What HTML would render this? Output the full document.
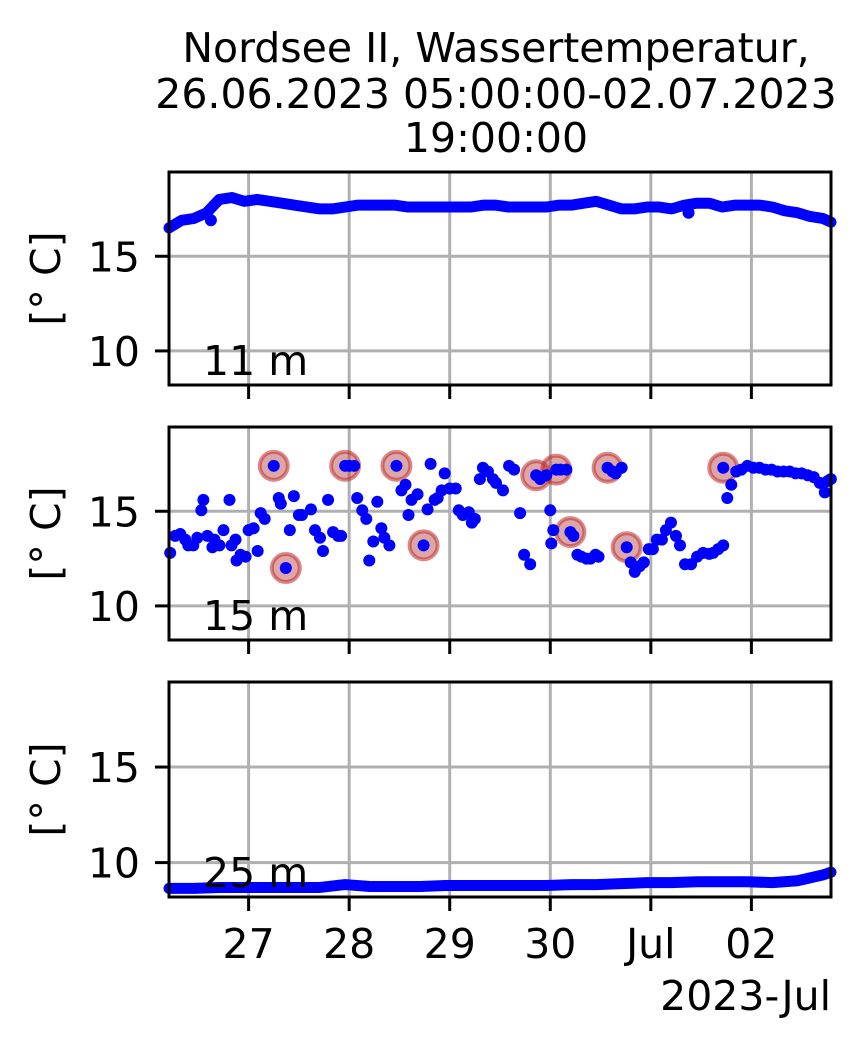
<!DOCTYPE html>
<html><head><meta charset="utf-8"><style>
html,body{margin:0;padding:0;background:#fff;}
svg text{font-family:"DejaVu Sans","Liberation Sans",sans-serif;fill:#000;}
</style></head><body>
<svg id="chart" width="860" height="1049" viewBox="0 0 860 1049" xmlns="http://www.w3.org/2000/svg">
<g font-size="41" text-anchor="middle">
<text x="496" y="62">Nordsee II, Wassertemperatur,</text>
<text x="496" y="108">26.06.2023 05:00:00-02.07.2023</text>
<text x="496" y="152">19:00:00</text>
</g>
<g id="plots"></g>
</svg>
<script>
// panel 1 (11 m): hours since start, values
const hours1 = [0,3,6,9,12,15,18,21,24,27,30,33,36,39,42,45,48,51,54,57,60,63,66,69,72,75,78,81,84,87,90,93,96,99,102,105,108,111,114,117,120,123,126,129,132,135,138,141,144,147,150,153,156,158];
const temps1 = [16.5,16.9,17.0,17.3,18.0,18.1,17.9,18.0,17.9,17.8,17.7,17.6,17.5,17.5,17.6,17.7,17.7,17.7,17.7,17.6,17.6,17.6,17.6,17.6,17.6,17.7,17.7,17.6,17.6,17.6,17.6,17.7,17.7,17.8,17.9,17.7,17.5,17.5,17.6,17.6,17.5,17.7,17.8,17.8,17.6,17.7,17.7,17.7,17.6,17.4,17.3,17.1,17.0,16.8];
const outlierHours1 = [10,124];
const outlierTemps1 = [16.9,17.3];
// panel 2 (15 m): day of June (July 1 = 31)
const days2 = [26.22,26.27,26.32,26.37,26.4,26.45,26.49,26.53,26.55,26.59,26.64,26.66,26.71,26.75,26.81,26.83,26.87,26.88,26.92,26.97,27.0,27.05,27.09,27.12,27.16,27.25,27.30,27.32,27.37,27.41,27.45,27.5,27.53,27.62,27.66,27.71,27.74,27.79,27.84,27.89,27.92,27.96,28.0,28.05,28.08,28.13,28.17,28.2,28.24,28.28,28.32,28.35,28.4,28.47,28.52,28.56,28.59,28.62,28.68,28.74,28.78,28.81,28.85,28.88,28.92,28.95,29.0,29.06,29.09,29.13,29.19,29.22,29.25,29.3,29.33,29.38,29.43,29.46,29.53,29.59,29.64,29.7,29.74,29.8,29.86,29.9,29.96,30.0,30.01,30.03,30.06,30.1,30.16,30.2,30.23,30.27,30.31,30.36,30.4,30.45,30.48,30.57,30.62,30.65,30.71,30.76,30.8,30.84,30.89,30.93,30.98,31.02,31.06,31.11,31.15,31.2,31.25,31.29,31.34,31.4,31.46,31.52,31.58,31.62,31.67,31.72,31.72,31.76,31.8,31.85,31.9,31.96,32.02,32.08,32.14,32.2,32.26,32.32,32.38,32.44,32.5,32.56,32.62,32.68,32.73,32.76,32.79];
const temps2 = [12.8,13.7,13.8,13.5,13.2,13.2,13.6,15.05,15.6,13.7,13.1,13.5,13.2,14.0,15.6,13.2,13.5,12.4,12.7,12.6,14.0,14.1,12.9,14.9,14.6,17.4,15.7,15.4,12.0,14.0,15.8,14.8,14.8,15.1,14.0,13.6,12.9,15.6,13.9,13.7,13.7,17.4,17.4,17.4,15.7,15.05,14.6,12.4,13.4,15.5,14.1,13.6,13.2,17.4,16.1,16.4,14.8,15.6,15.9,13.2,15.1,17.5,15.6,15.7,16.1,17.0,16.2,16.2,15.05,14.8,14.95,14.4,14.6,16.7,17.3,17.1,16.7,16.5,16.1,17.4,17.2,14.9,12.7,12.2,16.9,16.7,16.9,15.05,13.3,14.0,17.2,17.2,17.2,13.9,13.7,12.7,12.6,12.5,12.5,12.7,12.6,17.3,17.1,17.0,17.3,13.1,12.3,11.8,12.1,12.3,13.0,13.0,13.5,13.5,14.0,14.4,13.7,13.2,12.2,12.2,12.6,12.8,12.75,12.8,13.0,13.2,17.3,15.7,16.4,17.1,17.2,17.4,17.3,17.3,17.2,17.2,17.1,17.1,17.1,17.0,17.0,16.9,16.8,16.5,16.0,16.6,16.7];
const flagDays2 = [27.25,27.37,27.96,28.47,28.74,29.86,30.06,30.2,30.57,30.76,31.72];
const flagTemps2 = [17.4,12.0,17.4,17.4,13.2,16.9,17.2,13.9,17.3,13.1,17.3];
// panel 3 (25 m)
const hours3 = [0,6,12,18,24,30,36,42,48,54,60,66,72,78,84,90,96,102,108,114,120,126,132,138,144,150,153,156,158];
const temps3 = [8.65,8.65,8.7,8.7,8.7,8.7,8.7,8.85,8.75,8.75,8.75,8.8,8.8,8.8,8.8,8.8,8.85,8.85,8.9,8.95,8.95,9.0,9.0,9.0,8.95,9.05,9.2,9.35,9.5];
const yTicks = [10,15];
const xTickDays = [27,28,29,30,31,32];
const xTickLabels = ['27','28','29','30','Jul','02'];
const depthLabels = ['11 m','15 m','25 m'];

const NS='http://www.w3.org/2000/svg';
const X0=169, X1=831, D0=26.2083, D1=32.7917;
const YMIN=8.2, YMAX=19.45;
const FS=41;
const panels=[{top:172,bot:385},{top:427,bot:640},{top:682,bot:897}];
function xd(d){return X0+(d-D0)/(D1-D0)*(X1-X0);}
function xh(h){return xd(D0+h/24);}
function yv(p,v){return p.bot-(v-YMIN)/(YMAX-YMIN)*(p.bot-p.top);}
function mk(tag,attrs,parent){const e=document.createElementNS(NS,tag);for(const k in attrs)e.setAttribute(k,attrs[k]);parent.appendChild(e);return e;}
const root=document.getElementById('plots');

panels.forEach((p,i)=>{
  const g=mk('g',{},root);
  
  
  const grid=mk('g',{stroke:'#b0b0b0','stroke-width':3},g);
  
  
  xTickDays.forEach(d=>{mk('line',{x1:xd(d),x2:xd(d),y1:p.top,y2:p.bot},grid);
    const t=mk('line',{x1:xd(d),x2:xd(d),y1:p.bot,y2:p.bot+14,stroke:'#000','stroke-width':3},g);
    
    });
  yTicks.forEach(v=>{mk('line',{x1:X0,x2:X1,y1:yv(p,v),y2:yv(p,v)},grid);
    const t=mk('line',{x1:X0-14,x2:X0,y1:yv(p,v),y2:yv(p,v),stroke:'#000','stroke-width':3},g);
    
    
    const l=mk('text',{x:X0-29,y:yv(p,v)+15,'text-anchor':'end','font-size':FS},g);l.textContent=v;
    
    });
  const yl=mk('text',{x:0,y:0,'font-size':FS,'text-anchor':'middle',transform:`translate(60,${(p.top+p.bot)/2}) rotate(-90)`},g);
  yl.textContent='[° C]';
  
  
  p.g=g;
});

function dots(p,xs,ys,name,r){
  const g=mk('g',{fill:'#0000ff'},p.g);
  
  
  xs.forEach((x,i)=>{const c=mk('circle',{cx:x,cy:yv(p,ys[i]),r:r},g);
    
    });
}
function line(p,xs,ys,name){
  const pl=mk('polyline',{points:xs.map((x,i)=>x+','+yv(p,ys[i])).join(' '),fill:'none',stroke:'#0000ff','stroke-width':11,'stroke-linejoin':'round','stroke-linecap':'round'},p.g);
  
  
}
line(panels[0],hours1.map(xh),temps1,'series-11m-line');
dots(panels[0],outlierHours1.map(xh),outlierTemps1,'series-11m-outliers',6);
const fg=mk('g',{},panels[1].g);


flagDays2.forEach((d,i)=>{const c=mk('circle',{cx:xd(d),cy:yv(panels[1],flagTemps2[i]),r:14,fill:'rgba(180,60,60,0.45)',stroke:'rgba(190,40,40,0.55)','stroke-width':4},fg);
  
  });
dots(panels[1],days2.map(xd),temps2,'series-15m',6);
line(panels[2],hours3.map(xh),temps3,'series-25m-line');

panels.forEach((p,i)=>{
  const fr=mk('rect',{x:X0,y:p.top,width:X1-X0,height:p.bot-p.top,fill:'none',stroke:'#000','stroke-width':3},p.g);
  
  
  const dl=mk('text',{x:203,y:p.bot-10,'font-size':FS},p.g);dl.textContent=depthLabels[i];
  
  
});
xTickDays.forEach((d,i)=>{const t=mk('text',{x:xd(d),y:958,'text-anchor':'middle','font-size':FS},root);t.textContent=xTickLabels[i];
  
  });
const off=mk('text',{x:831,y:1010,'text-anchor':'end','font-size':FS},root);off.textContent='2023-Jul';


</script>
</body></html>
